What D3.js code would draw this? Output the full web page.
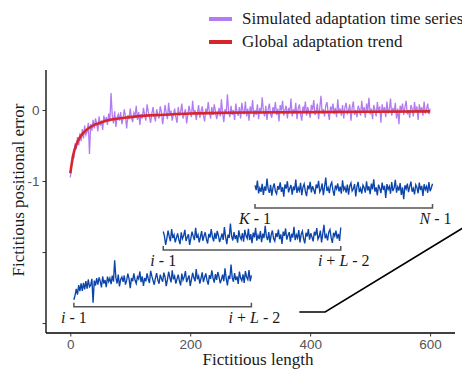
<!DOCTYPE html>
<html lang="en">
<head>
<meta charset="UTF-8">
<title>Adaptation windows</title>
<script src="https://d3js.org/d3.v7.min.js"></script>
<style>
  body { margin: 0; background: #fff; }
  svg { font-family: "Liberation Serif", "DejaVu Serif", serif; }
  .tick-label { font-size: 13.5px; fill: #555; }
  .axis-title { font-size: 17px; fill: #1a1a1a; }
  .legend-text { font-size: 17px; fill: #1a1a1a; }
  .win-label { font-size: 16px; fill: #1a1a1a; }
</style>
</head>
<body>
<svg width="462" height="372"></svg>
<script>
// simulated series, one value every 2 units from 0 to 600
const seriesStep = 2;
const seriesValues = [
  -0.95, -0.80, -0.62, -0.68, -0.47, -0.55, -0.38, -0.50, -0.33, -0.44,
  -0.27, -0.40, -0.22, -0.35, -0.31, -0.18, -0.62, -0.20, -0.29, -0.14,
  -0.26, -0.12, -0.19, -0.30, -0.09, -0.22, -0.15, -0.28, -0.08, -0.17,
  -0.10, -0.21, -0.05, -0.16, 0.24, -0.08, -0.19, -0.02, -0.24, -0.11,
  -0.06, -0.15, -0.03, -0.20, -0.12, 0.01, -0.09, -0.26, -0.07, -0.13,
  0.02, -0.11, -0.17, -0.04, -0.08, 0.06, -0.14, -0.03, -0.21, -0.06,
  -0.12, 0.03, -0.07, -0.15, 0.08, -0.02, -0.10, -0.18, -0.05, 0.04,
  -0.09, -0.16, 0.01, -0.06, -0.12, 0.05, -0.03, -0.20, -0.08, 0.07,
  -0.04, -0.13, 0.10, -0.07, -0.01, -0.15, -0.06, 0.02, -0.10, -0.18,
  0.04, -0.08, -0.02, 0.09, -0.12, -0.05, 0.01, -0.19, -0.07, 0.06,
  -0.03, -0.10, 0.13, -0.06, 0.00, -0.14, -0.04, 0.07, -0.11, -0.02,
  0.05, -0.08, -0.16, 0.02, -0.05, 0.11, -0.03, -0.12, 0.04, -0.07,
  0.08, -0.01, -0.13, -0.06, 0.03, -0.09, 0.15, -0.04, -0.17, 0.01,
  -0.05, 0.22, -0.02, -0.10, 0.06, -0.07, 0.00, -0.14, 0.09, -0.03,
  -0.08, 0.04, -0.12, 0.10, -0.01, -0.06, 0.12, -0.09, 0.02, -0.15,
  0.05, -0.04, 0.14, -0.10, 0.00, -0.07, 0.08, -0.13, 0.03, -0.05,
  0.18, -0.02, -0.09, 0.06, -0.14, 0.01, 0.09, -0.06, -0.11, 0.04,
  -0.03, 0.11, -0.07, 0.02, -0.16, 0.07, -0.01, 0.13, -0.08, 0.00,
  0.06, -0.12, 0.03, -0.04, 0.16, -0.09, 0.01, -0.05, 0.10, -0.13,
  0.02, 0.08, -0.06, -0.15, 0.05, -0.02, 0.12, -0.08, 0.04, -0.03,
  -0.11, 0.07, 0.00, 0.14, -0.07, -0.02, 0.09, -0.13, 0.03, 0.20,
  -0.05, 0.01, -0.09, 0.06, 0.11, -0.04, -0.14, 0.05, -0.01, 0.09,
  -0.06, 0.03, -0.10, 0.15, -0.03, 0.02, -0.08, 0.07, -0.12, 0.04,
  0.10, -0.05, -0.01, 0.08, -0.15, 0.03, 0.12, -0.07, 0.00, -0.10,
  0.06, 0.01, -0.08, 0.13, -0.04, 0.04, -0.11, 0.09, -0.02, 0.17,
  -0.06, 0.02, -0.13, 0.07, 0.00, -0.09, 0.11, -0.03, 0.05, -0.18,
  0.08, -0.02, 0.04, -0.10, 0.12, -0.05, 0.01, 0.16, -0.08, 0.03,
  -0.04, 0.10, -0.12, 0.02, -0.20, 0.06, -0.01, 0.09, -0.07, 0.04,
  0.13, -0.06, 0.00, -0.11, 0.07, 0.02, -0.09, 0.11, -0.03, 0.05,
  -0.14, 0.08, -0.02, 0.04, -0.08, 0.12, -0.05, 0.01, 0.09, -0.06,
  0.02
];

// global trend
const trendX = [0, 5, 10, 15, 20, 30, 40, 50, 60, 80, 100, 125, 150, 200, 250, 300, 400, 500, 600];
const trendY = [-0.89, -0.63, -0.49, -0.40, -0.34, -0.26, -0.21, -0.18, -0.15, -0.12, -0.10, -0.08, -0.07, -0.05, -0.04, -0.035, -0.03, -0.025, -0.02];

// sliding windows
const windowSource = [0, 150, 300];
const windowLength = 296;
const windowX = [6, 155, 308];
const windowBase = [-2.36, -1.78, -1.115];
const bracketY = [-2.77, -1.97, -1.38];
const leftLabels = ["i - 1", "i - 1", "K - 1"];
const rightLabels = ["i + L - 2", "i + L - 2", "N - 1"];

// mapping function sketch
const mapX = [382, 425, 655];
const mapY = [-2.845, -2.845, -1.66];

const xTicks = [0, 200, 400, 600];
const yTicks = [0, -1, -2, -3];
const yTickLabels = ["0", "-1", "", ""];

const legendNames = ["Simulated adaptation time series", "Global adaptation trend"];
const colors = { series: "#b27cf0", trend: "#d7262b", window: "#0b45aa" };

const svg = d3.select("svg");

const x = d3.scaleLinear().domain([-40.5, 641.5]).range([46, 455]);
const y = d3.scaleLinear().domain([-3.14, 0.563]).range([333, 70]);
const trendAt = d3.scaleLinear().domain(trendX).range(trendY).clamp(true);

const series = seriesValues.map((v, i) => ({ x: i * seriesStep, y: v }));
const trend = trendX.map((d, i) => ({ x: d, y: trendY[i] }));

const line = d3.line().x(d => x(d.x)).y(d => y(d.y));

// axes
const xAxis = svg.append("g").attr("transform", "translate(0,333)")
  .call(d3.axisBottom(x).tickValues(xTicks).tickSize(3.5).tickPadding(3));
const yAxis = svg.append("g").attr("transform", "translate(46,0)")
  .call(d3.axisLeft(y).tickValues(yTicks).tickFormat((d, i) => yTickLabels[i]).tickSize(3.5).tickPadding(3));

[xAxis, yAxis].forEach(g => {
  g.select(".domain").attr("stroke", "#000").attr("stroke-width", 1.3);
  g.selectAll(".tick line").attr("stroke", "#333");
  g.selectAll(".tick text").attr("class", "tick-label").attr("font-family", null).attr("font-size", null);
});
xAxis.select(".domain").attr("d", "M46,0H455");
yAxis.select(".domain").attr("d", "M0,70V333");

// series + trend
svg.append("path").datum(series)
  .attr("fill", "none").attr("stroke", colors.series).attr("stroke-width", 1.3)
  .attr("d", line);

svg.append("path").datum(trend)
  .attr("fill", "none").attr("stroke", colors.trend).attr("stroke-width", 2.6)
  .attr("d", line.curve(d3.curveMonotoneX));
line.curve(d3.curveLinear);

// labels with italic single letters
function richLabel(g, str, px, py) {
  const t = g.append("text").attr("class", "win-label")
    .attr("x", px).attr("y", py).attr("text-anchor", "middle");
  str.split(" ").forEach((tok, i) => {
    const s = t.append("tspan").text((i > 0 ? " " : "") + tok);
    if (/^[A-Za-z]$/.test(tok)) s.attr("font-style", "italic");
  });
}

// windows
windowSource.forEach((src, w) => {
  const g = svg.append("g");
  const pts = series
    .filter(d => d.x >= src && d.x <= src + windowLength)
    .map(d => {
      const tr = trendAt(d.x);
      return { x: windowX[w] + d.x - src, y: windowBase[w] + 0.3 * tr + 0.75 * (d.y - tr) };
    });
  g.append("path").datum(pts)
    .attr("fill", "none").attr("stroke", colors.window).attr("stroke-width", 1.35)
    .attr("d", line);

  const x0 = x(windowX[w]), x1 = x(windowX[w] + windowLength), by = y(bracketY[w]);
  g.append("path")
    .attr("d", `M${x0},${by - 4}V${by}H${x1}V${by - 4}`)
    .attr("fill", "none").attr("stroke", "#555").attr("stroke-width", 1.5);

  richLabel(g, leftLabels[w], x0, by + 16);
  richLabel(g, rightLabels[w], x1 + 3, by + 16);
});

// mapping line
svg.append("path")
  .datum(mapX.map((d, i) => ({ x: d, y: mapY[i] })))
  .attr("fill", "none").attr("stroke", "#000").attr("stroke-width", 1.6)
  .attr("d", line);

// axis titles
svg.append("text").attr("class", "axis-title")
  .attr("x", 258).attr("y", 365).attr("text-anchor", "middle")
  .text("Fictitious length");
svg.append("text").attr("class", "axis-title")
  .attr("transform", "translate(24,190) rotate(-90)").attr("text-anchor", "middle")
  .text("Fictitious positional error");

// legend
const legend = svg.append("g");
legendNames.forEach((name, i) => {
  const ly = 19 + i * 23;
  legend.append("line")
    .attr("x1", 209).attr("x2", 232).attr("y1", ly).attr("y2", ly)
    .attr("stroke", i === 0 ? colors.series : colors.trend).attr("stroke-width", 4);
  legend.append("text").attr("class", "legend-text")
    .attr("x", 242).attr("y", ly + 5).text(name);
});
</script>
</body>
</html>
